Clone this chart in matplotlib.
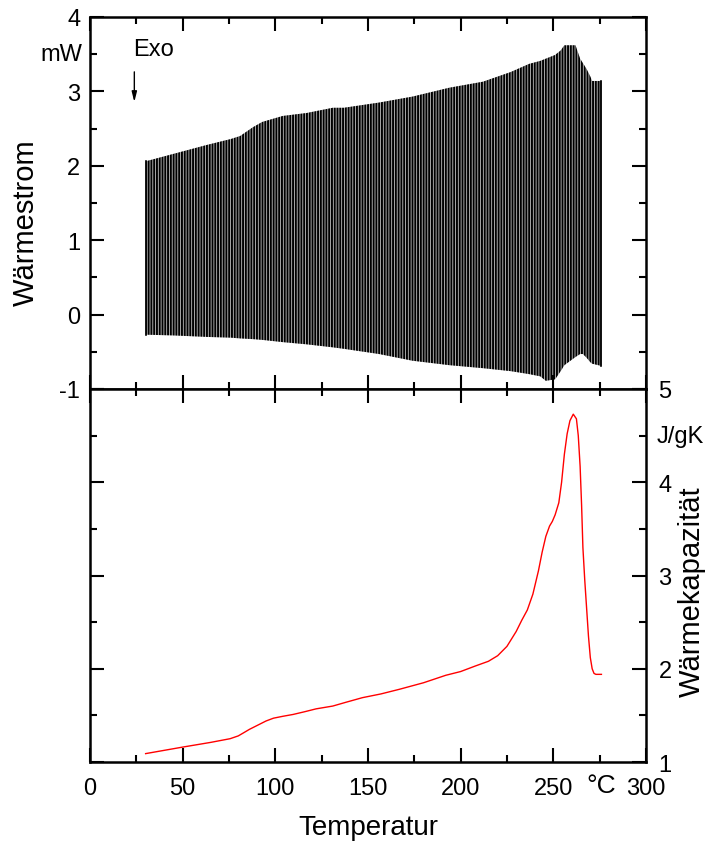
import numpy as np
import matplotlib
matplotlib.use("Agg")
import matplotlib.pyplot as plt
import matplotlib.transforms as mtransforms
from matplotlib.ticker import MultipleLocator

plt.rcParams['font.family'] = ['Liberation Sans', 'DejaVu Sans']
plt.rcParams['axes.unicode_minus'] = False
plt.rcParams['hatch.linewidth'] = 1.4

# modulated heat flow: band between lower and upper envelope (mW)
temp_env = [30, 45, 63, 76, 81, 88, 93, 104, 117, 131, 137, 156, 174, 194, 212,
            227, 237, 243, 246, 251, 254, 256, 262, 264.5, 266, 268, 270, 271, 276]
heat_upper = [2.06, 2.16, 2.28, 2.36, 2.40, 2.52, 2.59, 2.67, 2.71, 2.78, 2.78, 2.85,
              2.93, 3.05, 3.13, 3.26, 3.37, 3.41, 3.44, 3.49, 3.55, 3.62, 3.62, 3.44,
              3.38, 3.30, 3.20, 3.14, 3.14]
heat_lower = [-0.27, -0.28, -0.30, -0.31, -0.32, -0.33, -0.34, -0.37, -0.40, -0.44,
              -0.46, -0.53, -0.62, -0.68, -0.72, -0.76, -0.80, -0.83, -0.89, -0.87,
              -0.76, -0.68, -0.57, -0.53, -0.53, -0.58, -0.64, -0.66, -0.69]

# heat capacity (J/gK)
temp_cp = [30, 50, 65, 75.6, 80, 82.6, 86, 90, 95, 99, 104, 109.6, 116, 122, 131, 138,
           147, 157, 167, 180, 192, 200, 208, 215, 220, 225, 230, 233, 236, 239, 242,
           244, 246, 248, 249.5, 251, 253, 254.5, 256, 257.5, 259, 260.8, 262.5, 263.5,
           264.5, 265.3, 266, 267, 268, 269, 270, 271, 272, 273, 276]
cp = [1.09, 1.16, 1.21, 1.25, 1.28, 1.31, 1.35, 1.39, 1.44, 1.47, 1.49, 1.51, 1.54,
      1.57, 1.60, 1.64, 1.69, 1.73, 1.78, 1.85, 1.93, 1.97, 2.03, 2.08, 2.14, 2.24,
      2.40, 2.52, 2.63, 2.80, 3.05, 3.25, 3.42, 3.53, 3.58, 3.65, 3.78, 4.00, 4.30,
      4.52, 4.66, 4.73, 4.68, 4.50, 4.17, 3.75, 3.30, 2.95, 2.65, 2.35, 2.12, 2.00,
      1.95, 1.94, 1.94]

x_ticks = [0, 50, 100, 150, 200, 250, 300]
x_ticklabels = ['0', '50', '100', '150', '200', '250', '300']

fig = plt.figure(figsize=(7.09, 8.53), dpi=100)
ax1 = fig.add_axes([0.127, 0.5428, 0.784, 0.4361])
ax2 = fig.add_axes([0.127, 0.1055, 0.784, 0.4373])

# top: Wärmestrom
ax1.fill_between(temp_env, heat_lower, heat_upper, facecolor='#c4c4c4',
                 edgecolor='black', hatch='|' * 6, linewidth=0)
ax1.plot([temp_env[0], temp_env[0]], [heat_lower[0], heat_upper[0]], color='black', lw=1.2)
ax1.plot([temp_env[-1], temp_env[-1]], [heat_lower[-1], heat_upper[-1]], color='black', lw=1.2)
ax1.set_xlim(0, 300)
ax1.set_ylim(-1, 4)
ax1.set_yticks([-1, 0, 1, 2, 3, 4])
ax1.yaxis.set_minor_locator(MultipleLocator(0.5))
ax1.xaxis.set_major_locator(MultipleLocator(50))
ax1.xaxis.set_minor_locator(MultipleLocator(25))
ax1.tick_params(axis='both', which='both', direction='in', top=True, right=True,
                labelbottom=False, width=1.5)
ax1.tick_params(axis='both', which='major', length=10, labelsize=17, pad=7)
ax1.tick_params(axis='both', which='minor', length=5)
ax1.set_ylabel('Wärmestrom', fontsize=21)
ax1.yaxis.set_label_coords(-0.09, 0.45)

trans1 = mtransforms.blended_transform_factory(ax1.transAxes, ax1.transData)
ax1.text(-0.014, 3.5, 'mW', transform=trans1, ha='right', va='center', fontsize=17)
ax1.text(23.5, 3.57, 'Exo', ha='left', va='center', fontsize=17)
ax1.annotate('', xy=(23.9, 2.82), xytext=(23.9, 3.3),
             arrowprops=dict(arrowstyle='-|>,head_length=0.6,head_width=0.15',
                             color='black', lw=1.0))

# bottom: Wärmekapazität
ax2.plot(temp_cp, cp, color='red', lw=1.0)
ax2.set_xlim(0, 300)
ax2.set_ylim(1, 5)
ax2.set_xticks(x_ticks)
ax2.set_xticklabels(x_ticklabels)
ax2.xaxis.set_minor_locator(MultipleLocator(25))
ax2.yaxis.set_major_locator(MultipleLocator(1))
ax2.yaxis.set_minor_locator(MultipleLocator(0.5))
ax2.tick_params(axis='both', which='both', direction='in', top=True, right=True,
                labelleft=False, labelright=True, width=1.5)
ax2.tick_params(axis='both', which='major', length=10, labelsize=17)
ax2.tick_params(axis='both', which='minor', length=5)
ax2.tick_params(axis='x', which='major', pad=11)
ax2.tick_params(axis='y', which='major', pad=9)
ax2.set_xlabel('Temperatur', fontsize=20)
ax2.xaxis.set_label_coords(0.5, -0.14)
ax2.yaxis.set_label_position('right')
ax2.set_ylabel('Wärmekapazität', fontsize=21, rotation=90)
ax2.yaxis.set_label_coords(1.058, 0.46)

trans2 = mtransforms.blended_transform_factory(ax2.transAxes, ax2.transData)
ax2.text(1.019, 4.5, 'J/gK', transform=trans2, ha='left', va='center', fontsize=17)
trans3 = mtransforms.blended_transform_factory(ax2.transData, ax2.transAxes)
ax2.text(276, -0.03, '°C', transform=trans3, ha='center', va='top', fontsize=19)

for ax in (ax1, ax2):
    for sp in ax.spines.values():
        sp.set_linewidth(1.8)

fig.savefig('out.png', dpi=100)
